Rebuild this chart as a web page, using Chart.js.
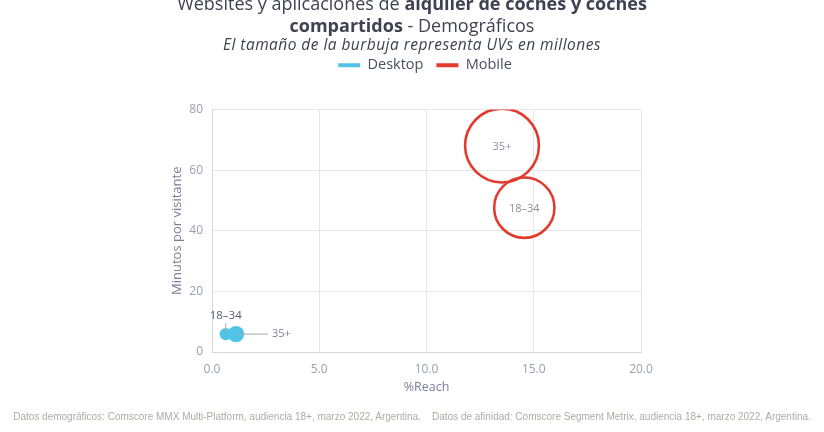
<!DOCTYPE html>
<html>
<head>
<meta charset="utf-8">
<script src="https://cdn.jsdelivr.net/npm/chart.js@4.4.1/dist/chart.umd.min.js"></script>
<style>
  html, body { margin: 0; padding: 0; background: #ffffff; }
  body { width: 824px; height: 432px; position: relative; overflow: hidden; }
  #c { position: absolute; left: 0; top: 0; width: 824px; height: 432px; }
  .t { position: absolute; left: 0; width: 824px; text-align: center; color: #3f4252; font-family: "Open Sans", sans-serif; white-space: nowrap; }
  #t1 { top: -7px; font-size: 18px; line-height: 21px; }
  #t2 { top: 15px; font-size: 18px; line-height: 21px; }
  #t3 { top: 35px; font-size: 15.5px; line-height: 18px; font-style: italic; letter-spacing: 0.45px; }
  b { font-weight: 700; }
  #foot { position: absolute; left: 0; width: 824px; top: 411px; text-align: center; font-family: "Liberation Sans Narrow", "Liberation Sans", sans-serif; font-size: 10px; color: #b3a9a6; white-space: nowrap; }
</style>
</head>
<body>
<canvas id="c" width="824" height="432"></canvas>
<div class="t" id="t1">Websites y aplicaciones de <b>alquiler de coches y coches</b></div>
<div class="t" id="t2"><b>compartidos</b> - Demográficos</div>
<div class="t" id="t3">El tamaño de la burbuja representa UVs en millones</div>
<div id="foot">Datos demográficos: Comscore MMX Multi-Platform, audiencia 18+, marzo 2022, Argentina.&nbsp;&nbsp;&nbsp; Datos de afinidad: Comscore Segment Metrix, audiencia 18+, marzo 2022, Argentina.</div>
<script>
// ---- data ----
const categories = ['18–34', '35+'];
const seriesNames = ['Desktop', 'Mobile'];
const desktopReach = [0.64, 1.12];
const desktopMinutes = [5.9, 5.9];
const desktopUV = [0.11, 0.19];
const mobileReach = [14.56, 13.52];
const mobileMinutes = [47.6, 68.1];
const mobileUV = [2.6, 3.9];
const xTickValues = [0, 5, 10, 15, 20];
const yTickValues = [0, 20, 40, 60, 80];

// ---- styles ----
const DESKTOP = '#4fc4e6';
const MOBILE = '#e23b2e';
const GRID = '#e4e6ec';
const TICK = '#9a9fb0';
const R_SCALE = 18.7; // px per sqrt(million UVs)

function toPoints(xs, ys, uvs) {
  return xs.map((x, i) => ({ x: x, y: ys[i], r: Math.sqrt(uvs[i]) * R_SCALE, label: categories[i] }));
}

const labelPlugin = {
  id: 'bubbleLabels',
  afterDatasetsDraw(chart) {
    const ctx = chart.ctx;
    ctx.save();
    const dm = chart.getDatasetMeta(0);
    const p0 = dm.data[0], p1 = dm.data[1];
    ctx.strokeStyle = '#a4a9b8';
    ctx.lineWidth = 1;
    ctx.beginPath();
    ctx.moveTo(p0.x, p0.y); ctx.lineTo(p0.x, p0.y - 11);
    ctx.moveTo(p1.x, p1.y); ctx.lineTo(p1.x + 32, p1.y);
    ctx.stroke();
    ctx.fillStyle = '#5c6070';
    ctx.textAlign = 'center'; ctx.textBaseline = 'middle';
    ctx.font = '11.5px "Open Sans", sans-serif';
    ctx.fillText(categories[0], p0.x, p0.y - 18);
    ctx.font = '11px "Open Sans", sans-serif';
    ctx.textAlign = 'left';
    ctx.fillStyle = '#7a7f90';
    ctx.fillText(categories[1], p1.x + 36, p1.y);
    const mm = chart.getDatasetMeta(1);
    ctx.textAlign = 'center';
    ctx.fillStyle = '#8a8fa0';
    mm.data.forEach((p, i) => ctx.fillText(categories[i], p.x, p.y + 1));
    ctx.restore();
  }
};

const legendTune = {
  id: 'legendTune',
  beforeLayout(chart) {
    const lg = chart.legend;
    if (lg && !lg.__patched) {
      const f = lg.fit;
      lg.fit = function () { f.call(this); this.height += 27; };
      lg.__patched = true;
    }
  },
  afterLayout(chart) {
    const lg = chart.legend;
    if (lg) { lg.left += 22; lg.right += 22; }
  }
};

const legendColors = [DESKTOP, MOBILE];

new Chart(document.getElementById('c'), {
  type: 'bubble',
  data: {
    datasets: [
      {
        label: seriesNames[0],
        data: toPoints(desktopReach, desktopMinutes, desktopUV),
        backgroundColor: DESKTOP,
        borderColor: DESKTOP,
        borderWidth: 0
      },
      {
        label: seriesNames[1],
        data: toPoints(mobileReach, mobileMinutes, mobileUV),
        backgroundColor: 'rgba(0,0,0,0)',
        borderColor: MOBILE,
        borderWidth: 2.6
      }
    ]
  },
  options: {
    responsive: false,
    animation: false,
    layout: { padding: { top: 45, left: 165, right: 183, bottom: 33 } },
    font: { family: '"Open Sans", sans-serif' },
    plugins: {
      tooltip: { enabled: false },
      legend: {
        position: 'top',
        labels: {
          boxWidth: 22,
          boxHeight: 4,
          padding: 13,
          color: '#4a4e5e',
          font: { size: 14.5, family: '"Open Sans", sans-serif' },
          generateLabels(chart) {
            return chart.data.datasets.map((ds, i) => ({
              text: ds.label, fillStyle: legendColors[i], strokeStyle: legendColors[i],
              lineWidth: 0, hidden: false, datasetIndex: i, fontColor: '#4a4e5e'
            }));
          }
        }
      }
    },
    scales: {
      x: {
        type: 'linear', min: xTickValues[0], max: xTickValues[xTickValues.length - 1],
        afterBuildTicks(s) { s.ticks = xTickValues.map(v => ({ value: v })); },
        afterFit(s) { s.height = 47; },
        grid: { color: GRID, drawTicks: false },
        border: { color: '#d3d6de' },
        ticks: { color: TICK, padding: 10, font: { size: 12 }, callback: v => Number(v).toFixed(1) },
        title: { display: true, text: '%Reach', color: '#7b8099', font: { size: 12.5 }, padding: { top: 4, bottom: 4 } }
      },
      y: {
        type: 'linear', min: yTickValues[0], max: yTickValues[yTickValues.length - 1],
        afterBuildTicks(s) { s.ticks = yTickValues.map(v => ({ value: v })); },
        afterFit(s) { s.width = 47; },
        grid: { color: GRID, drawTicks: false },
        border: { color: '#d3d6de' },
        ticks: { color: TICK, padding: 9, font: { size: 12 } },
        title: { display: true, text: 'Minutos por visitante', color: '#7b8099', font: { size: 13 }, padding: { top: 4, bottom: 4 } }
      }
    }
  },
  plugins: [labelPlugin, legendTune]
});
</script>
</body>
</html>
